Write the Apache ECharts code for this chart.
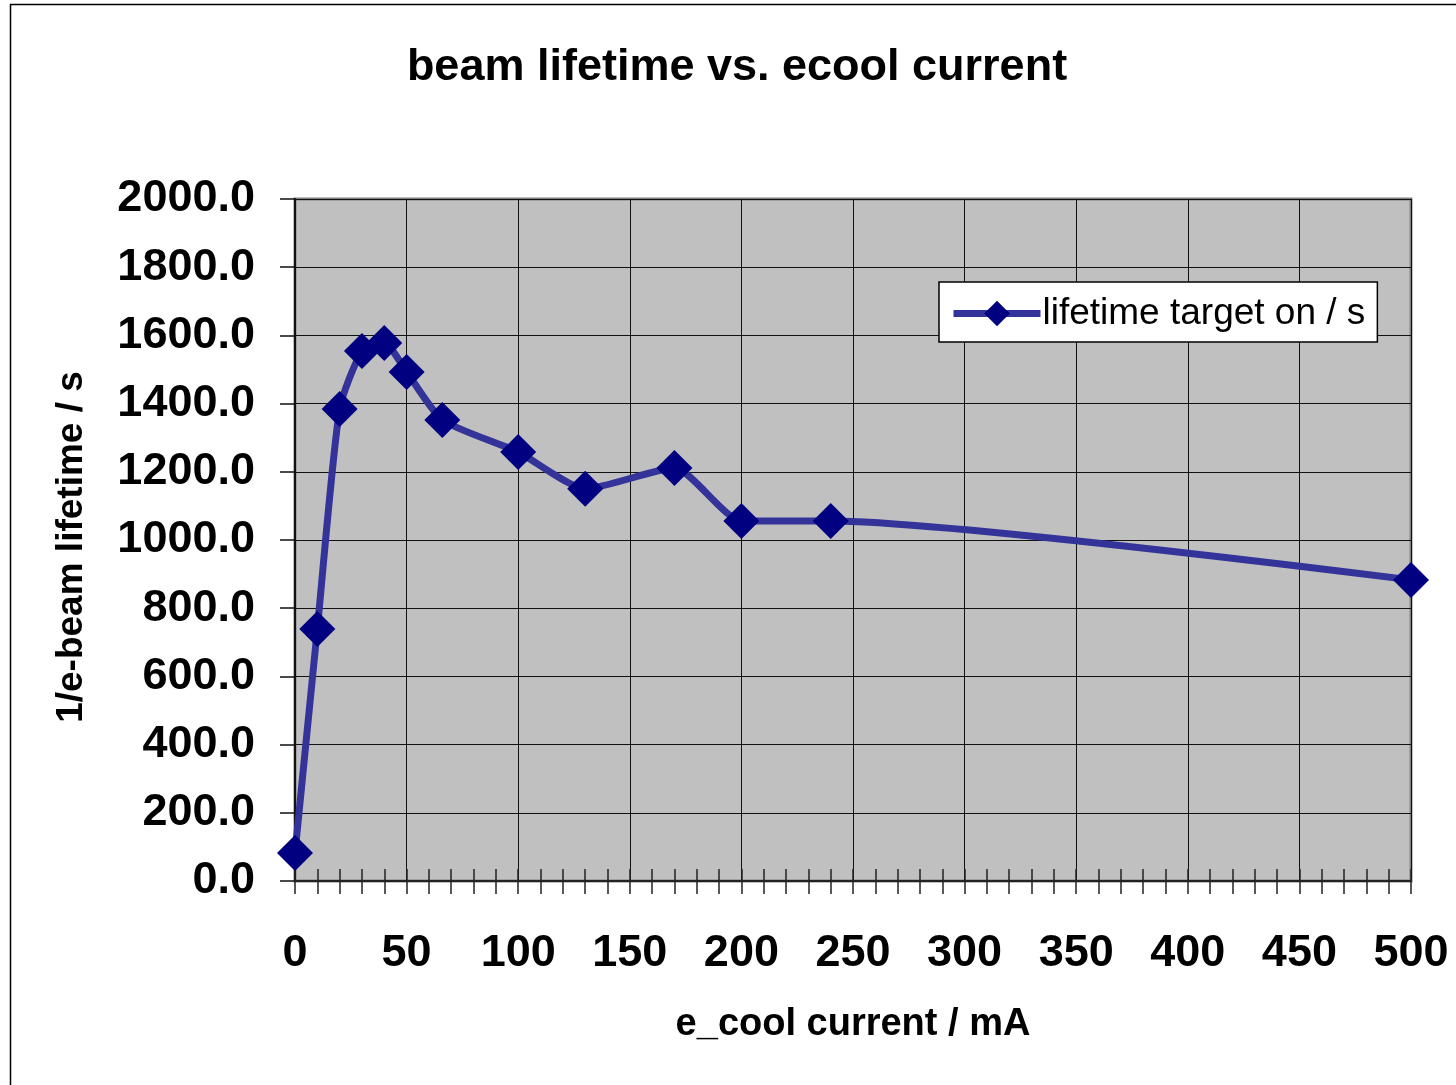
<!DOCTYPE html>
<html>
<head>
<meta charset="utf-8">
<title>beam lifetime vs. ecool current</title>
<script src="https://cdn.jsdelivr.net/npm/echarts@6/dist/echarts.min.js"></script>
<style>
  html, body { margin: 0; padding: 0; background: #ffffff; }
  #chart { width: 1456px; height: 1085px; }
</style>
</head>
<body>
<div id="chart"></div>
<script>
// e-cooler current (mA) and measured 1/e beam lifetime (s)
const ecoolCurrent = [0, 10, 20, 30, 40, 50, 66, 100, 130, 170, 200, 240, 500];
const lifetimeTargetOn = [82, 739, 1384, 1554, 1578, 1493, 1352, 1258, 1150, 1211, 1056, 1056, 883];

const seriesName = 'lifetime target on / s';
const FONT = '"Liberation Sans", Arial, Helvetica, sans-serif';

const points = ecoolCurrent.map((x, i) => [x, lifetimeTargetOn[i]]);

const chart = echarts.init(document.getElementById('chart'), null, { renderer: 'canvas' });

// helper for the tick-only x axes (ticks every 10 mA, above and below the axis line)
function tickAxis(inside) {
  return {
    type: 'value', min: 0, max: 500, interval: 10, position: 'bottom', gridIndex: 0,
    axisLine: { show: true, lineStyle: { color: '#222', width: 2 } },
    axisTick: { show: true, inside: inside, length: inside ? 12 : 13, lineStyle: { color: '#222', width: 1.5 } },
    axisLabel: { show: false },
    splitLine: { show: false }
  };
}

chart.setOption({
  animation: false,
  backgroundColor: '#ffffff',
  grid: {
    left: 295, right: 45, top: 199, bottom: 204,
    show: true, backgroundColor: '#c0c0c0', borderColor: '#808080', borderWidth: 3
  },
  graphic: [
    { type: 'rect', silent: true, z: -10,
      shape: { x: 10.5, y: 4.5, width: 1600, height: 1200 },
      style: { fill: 'none', stroke: '#000', lineWidth: 1.5 } },
    { type: 'text', x: 737, y: 68, silent: true,
      style: { text: 'beam lifetime vs. ecool current', font: 'bold 45px ' + FONT, fill: '#000',
               align: 'center', verticalAlign: 'middle' } },
    { type: 'text', x: 72, y: 547, rotation: Math.PI / 2, silent: true,
      style: { text: '1/e-beam lifetime / s', font: 'bold 37px ' + FONT, fill: '#000',
               align: 'center', verticalAlign: 'middle' } },
    { type: 'text', x: 853, y: 1025, silent: true,
      style: { text: 'e_cool current / mA', font: 'bold 38px ' + FONT, fill: '#000',
               align: 'center', verticalAlign: 'middle' } }
  ],
  legend: {
    left: 939, top: 282,
    orient: 'horizontal',
    backgroundColor: '#ffffff', borderColor: '#000', borderWidth: 1.5,
    padding: [11, 12, 8, 11],
    itemWidth: 87, itemHeight: 32, itemGap: 6,
    lineStyle: { width: 7 },
    textStyle: { fontFamily: FONT, fontSize: 37, color: '#000', lineHeight: 38, padding: [3, 0, 0, -3] },
    data: [seriesName]
  },
  xAxis: [
    {
      type: 'value', min: 0, max: 500, interval: 50, position: 'bottom', gridIndex: 0,
      axisLine: { show: true, lineStyle: { color: '#222', width: 2 } },
      axisTick: { show: false },
      axisLabel: { margin: 50, fontFamily: FONT, fontWeight: 'bold', fontSize: 45, color: '#000' },
      splitLine: { show: true, lineStyle: { color: '#111', width: 1 } }
    },
    tickAxis(true),
    tickAxis(false)
  ],
  yAxis: {
    type: 'value', min: 0, max: 2000, interval: 200,
    axisLine: { show: true, lineStyle: { color: '#111', width: 2 } },
    axisTick: { show: true, inside: false, length: 15, lineStyle: { color: '#111', width: 1.5 } },
    axisLabel: { margin: 40, fontFamily: FONT, fontWeight: 'bold', fontSize: 45, color: '#000',
                 padding: [7, 0, 0, 0], formatter: v => v.toFixed(1) },
    splitLine: { show: true, lineStyle: { color: '#111', width: 1 } }
  },
  series: [
    {
      name: seriesName,
      type: 'line',
      xAxisIndex: 0,
      data: points,
      smooth: 0.2,
      symbol: 'diamond',
      symbolSize: 36,
      lineStyle: { color: '#333399', width: 7 },
      itemStyle: { color: '#000080', borderWidth: 0 },
      z: 5
    }
  ]
});
</script>
</body>
</html>
